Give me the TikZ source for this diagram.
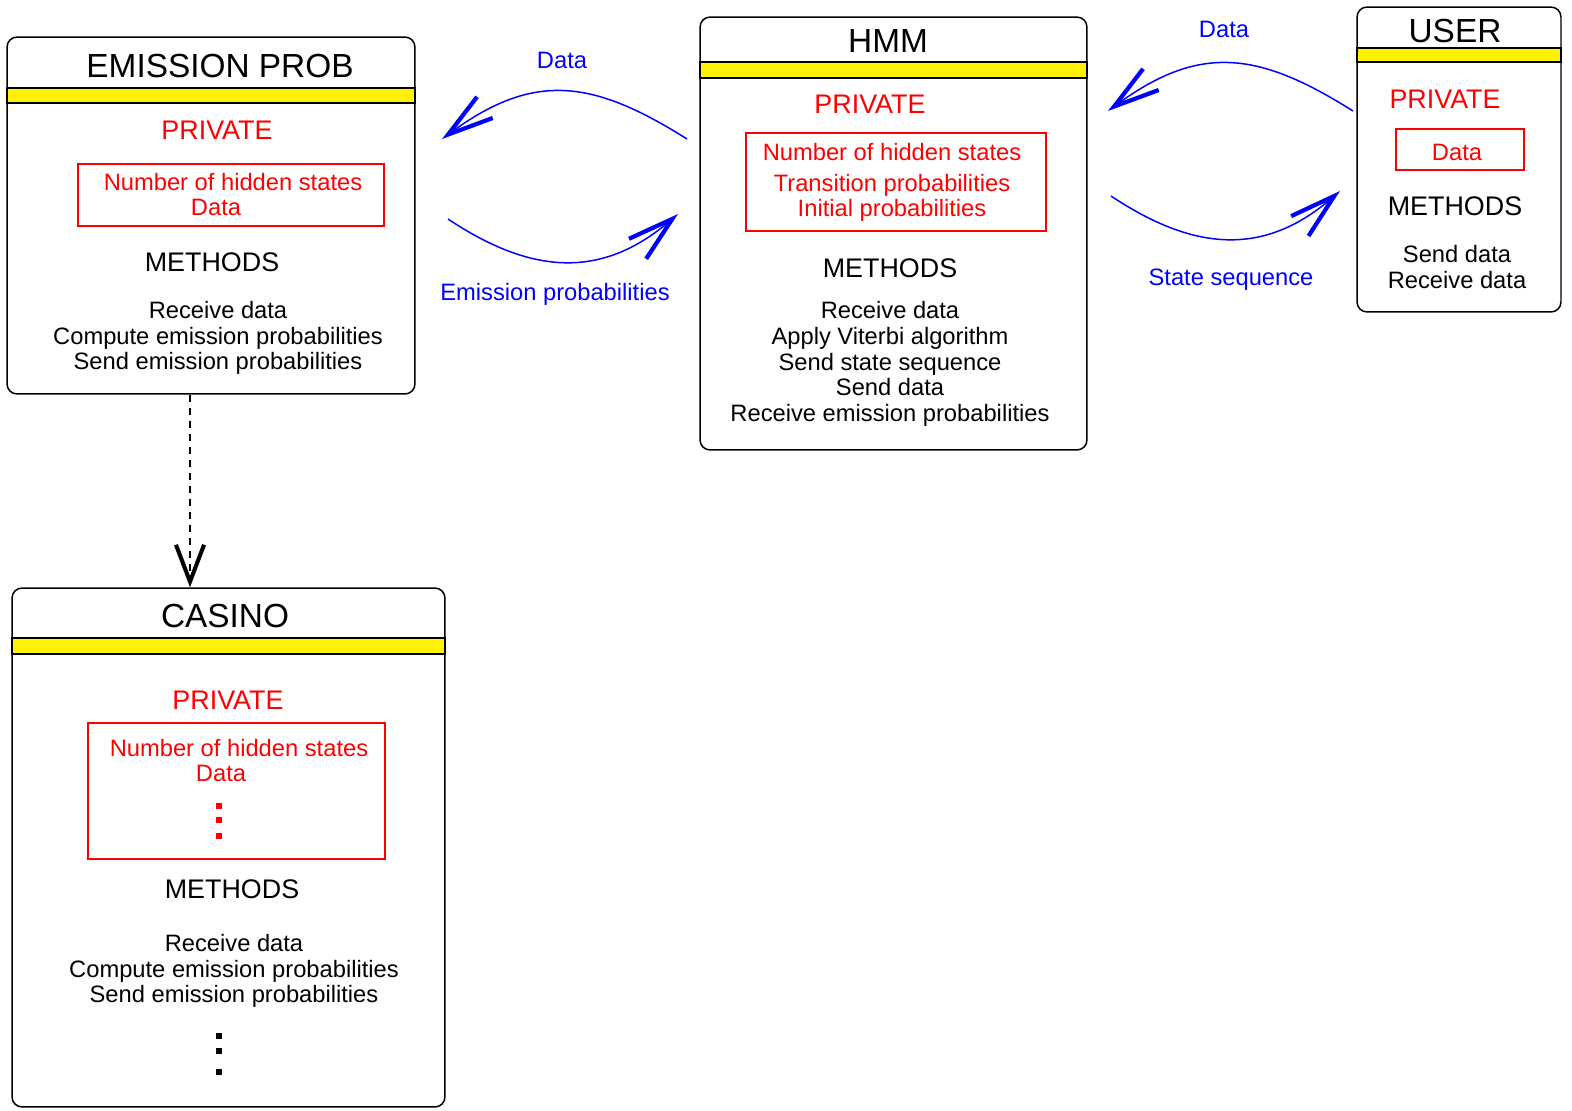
\documentclass[tikz,border=0pt]{standalone}
\usepackage{fontspec}
\setmainfont{Liberation Sans}
\usetikzlibrary{arrows.meta}
\tikzset{
  cls/.style={draw,rounded corners=5.7pt,line width=0.85pt},
  band/.style={draw,fill=yellow,line width=0.85pt},
  ttl/.style={font=\fontsize{19}{22}\selectfont,inner sep=0pt},
  hdr/.style={font=\fontsize{15.3}{18}\selectfont,inner sep=0pt},
  txt/.style={font=\fontsize{13.5}{14.7}\selectfont,align=center,inner sep=0pt},
  priv/.style={draw=red,line width=0.85pt},
  msg/.style={blue,line width=0.85pt,-{Straight Barb[length=26pt,width=15pt,line width=2.4pt]}},
  dep/.style={line width=0.6pt,dash pattern=on 4pt off 3.4pt,-{Straight Barb[length=21pt,width=16pt,line width=2.3pt]}},
}
\begin{document}
\begin{tikzpicture}[x=0.02cm,y=-0.02cm]
\useasboundingbox (0,0) rectangle (1572,1110);
% class boxes
\node[cls,minimum width=8.16cm,minimum height=7.14cm] (emis) at (211,215.5) {};
\node[cls,minimum width=7.74cm,minimum height=8.66cm] (hmm) at (893.5,233.5) {};
\node[cls,minimum width=4.08cm,minimum height=6.1cm] (user) at (1459,159.5) {};
\node[cls,minimum width=8.66cm,minimum height=10.38cm] (casino) at (228.5,847.5) {};
\draw[band] (7,88) rectangle (415,103);
\draw[band] (700,62) rectangle (1087,78);
\draw[band] (1357,48) rectangle (1561,62);
\draw[band] (12,638) rectangle (445,654);
% EMISSION PROB
\node[ttl] (emist) at (220,66) {EMISSION PROB};
\node[hdr,red] (emisp) at (217,130) {PRIVATE};
\node[priv,minimum width=6.12cm,minimum height=1.24cm] (emisb) at (231,195) {};
\node[txt,red] (emisn) at (233,182) {Number of hidden states};
\node[txt,red] (emisd) at (216,207) {Data};
\node[hdr] (emism) at (212,262) {METHODS};
\node[txt] (emisl) at (218,338) {Receive data\\Compute emission probabilities\\Send emission probabilities};
% HMM
\node[ttl] (hmmt) at (888,41) {HMM};
\node[hdr,red] (hmmp) at (870,104) {PRIVATE};
\node[priv,minimum width=6cm,minimum height=1.96cm] (hmmb) at (896,182) {};
\node[txt,red] (hmmn) at (892,182.5) {Number of hidden states\\[2.8pt]Transition probabilities\\Initial probabilities};
\node[hdr] (hmmm) at (890,268) {METHODS};
\node[txt] (hmml) at (890,364) {Receive data\\Apply Viterbi algorithm\\Send state sequence\\Send data\\Receive emission probabilities};
% USER
\node[ttl] (usert) at (1455,31) {USER};
\node[hdr,red] (userp) at (1445,99) {PRIVATE};
\node[priv,minimum width=2.56cm,minimum height=0.82cm] (userb) at (1460,149.5) {};
\node[txt,red] (userd) at (1457,152) {Data};
\node[hdr] (userm) at (1455,206) {METHODS};
\node[txt] (userl) at (1457,267) {Send data\\Receive data};
% CASINO
\node[ttl] (casinot) at (225,616) {CASINO};
\node[hdr,red] (casinop) at (228,700) {PRIVATE};
\node[priv,minimum width=5.94cm,minimum height=2.72cm] (casinob) at (236.5,791) {};
\node[txt,red] (casinon) at (239,748) {Number of hidden states};
\node[txt,red] (casinod) at (221,773) {Data};
\foreach \y in {806,820,836} \fill[red] (216,\y-3) rectangle (222,\y+3);
\node[hdr] (casinom) at (232,889) {METHODS};
\node[txt] (casinol) at (234,971) {Receive data\\Compute emission probabilities\\Send emission probabilities};
\foreach \y in {1036,1051,1072} \fill (216,\y-3) rectangle (222,\y+3);
% messages
\coordinate (hd1) at (687,139); \coordinate (ed1) at (442,139);
\draw[msg] (hd1) .. controls (591.5,78.7) and (533,72) .. (ed1);
\node[txt,blue] (ld1) at (562,60) {Data};
\coordinate (ee1) at (448,219); \coordinate (he1) at (678,214);
\draw[msg] (ee1) .. controls (531.6,274.7) and (601.8,279.6) .. (he1);
\node[txt,blue] (le1) at (555,294) {Emission probabilities};
\coordinate (ud2) at (1353,111); \coordinate (hd2) at (1108,111);
\draw[msg] (ud2) .. controls (1257.5,50.7) and (1199,44) .. (hd2);
\node[txt,blue] (ld2) at (1224,29) {Data};
\coordinate (hs2) at (1111,196); \coordinate (us2) at (1340,191);
\draw[msg] (hs2) .. controls (1194.6,251.7) and (1264.8,256.6) .. (us2);
\node[txt,blue] (ls2) at (1231,280) {State sequence};
% inheritance
\coordinate (dsh) at (190,0);
\draw[dep] (emis.south -| dsh) -- (casino.north -| dsh);
\end{tikzpicture}
\end{document}
